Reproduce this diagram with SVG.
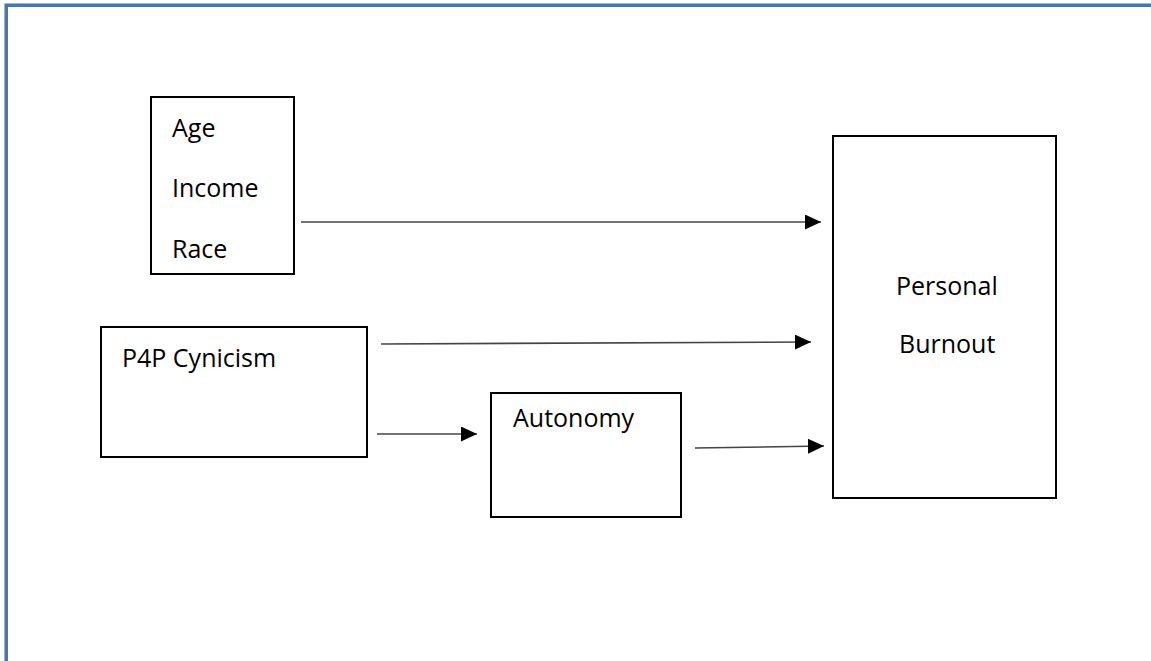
<svg xmlns="http://www.w3.org/2000/svg" width="1151" height="661" viewBox="0 0 1151 661">
  <style>
    .box { fill: #ffffff; stroke: #000000; stroke-width: 2; }
    .lbl { font-family: "Open Sans", "Liberation Sans", sans-serif; font-size: 25px; fill: #000000; }
    .conn { stroke: #444444; stroke-width: 1.6; fill: none; marker-end: url(#arrow); }
  </style>
  <defs>
    <marker id="arrow" markerWidth="16" markerHeight="15" refX="16" refY="7.5" orient="auto" markerUnits="userSpaceOnUse">
      <path d="M0,0 L16,7.5 L0,15 Z" fill="#000000"/>
    </marker>
  </defs>
  <rect x="0" y="0" width="1151" height="661" fill="#ffffff"/>
  <path d="M6.5,661 V5.5 H1151" fill="none" stroke="#4a76a8" stroke-width="3"/>
  <path d="M4.5,661 V3.5 H1151" fill="none" stroke="#9db5d3" stroke-width="1"/>

  <g id="node-demographics">
    <rect class="box" x="151" y="97" width="143" height="177"/>
    <text class="lbl" x="172" y="137">Age</text>
    <text class="lbl" x="172" y="197">Income</text>
    <text class="lbl" x="172" y="258">Race</text>
  </g>

  <g id="node-p4p">
    <rect class="box" x="101" y="327" width="266" height="130"/>
    <text class="lbl" x="122" y="367">P4P Cynicism</text>
  </g>

  <g id="node-autonomy">
    <rect class="box" x="491" y="393" width="190" height="124"/>
    <text class="lbl" x="513" y="427">Autonomy</text>
  </g>

  <g id="node-burnout">
    <rect class="box" x="833" y="136" width="223" height="362"/>
    <text class="lbl" x="896" y="295">Personal</text>
    <text class="lbl" x="899" y="353">Burnout</text>
  </g>

  <g id="connectors">
    <line class="conn" x1="301" y1="222" x2="821" y2="222"/>
    <line class="conn" x1="381" y1="344" x2="811" y2="342"/>
    <line class="conn" x1="377" y1="434" x2="477" y2="434"/>
    <line class="conn" x1="695" y1="448" x2="824" y2="446"/>
  </g>
</svg>
